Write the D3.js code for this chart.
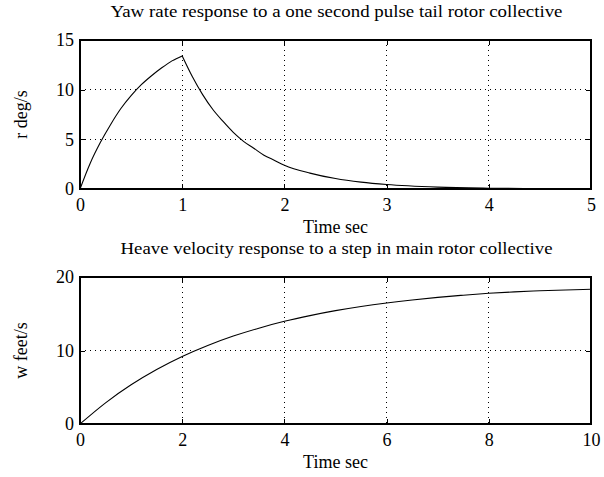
<!DOCTYPE html>
<html>
<head>
<script src="https://d3js.org/d3.v7.min.js"></script>
<style>
  body { margin: 0; background: #fff; }
  .axis path { display: none; }
  .axis line { stroke: #000; shape-rendering: crispEdges; }
  .grid line { stroke: #000; stroke-dasharray: 1,4; shape-rendering: crispEdges; }
  .frame { fill: none; stroke: #000; stroke-width: 1.3; shape-rendering: crispEdges; }
</style>
</head>
<body>
<script>
// yaw rate, one second pulse
var yawTime = [0, 0.1, 0.2, 0.3, 0.4, 0.5, 0.6, 0.7, 0.8, 0.9, 1.0,
               1.1, 1.2, 1.3, 1.4, 1.5, 1.6, 1.7, 1.8, 1.9, 2.0,
               2.25, 2.5, 2.75, 3.0, 3.5, 4.0, 4.5, 5.0];
var yawRate = [0, 2.6, 4.7, 6.5, 8.1, 9.4, 10.5, 11.4, 12.2, 12.9, 13.4,
               11.3, 9.5, 8.0, 6.8, 5.7, 4.8, 4.1, 3.4, 2.9, 2.4,
               1.6, 1.05, 0.69, 0.45, 0.19, 0.08, 0.03, 0.01];
var yawXTicks = [0, 1, 2, 3, 4, 5];
var yawYTicks = [0, 5, 10, 15];

// heave velocity, step input
var heaveTime = [0, 0.5, 1, 1.5, 2, 2.5, 3, 3.5, 4, 4.5, 5,
                 5.5, 6, 6.5, 7, 7.5, 8, 8.5, 9, 9.5, 10];
var heaveVel = [0, 2.88, 5.33, 7.41, 9.18, 10.68, 11.96, 13.04, 13.97, 14.75, 15.42,
                15.99, 16.47, 16.88, 17.23, 17.52, 17.78, 17.98, 18.12, 18.24, 18.33];
var heaveXTicks = [0, 2, 4, 6, 8, 10];
var heaveYTicks = [0, 10, 20];

var W = 604, H = 477;
var left = 80, right = 591;
var serif = '"Liberation Serif", "DejaVu Serif", serif';

var svg = d3.select('body').append('svg')
    .attr('width', W).attr('height', H);

function panel(cfg) {
    var x = d3.scaleLinear().domain(cfg.xDomain).range([left, right]);
    var y = d3.scaleLinear().domain(cfg.yDomain).range([cfg.bottom, cfg.top]);
    var g = svg.append('g');
    var fmt = d3.format('d');

    // dotted grid
    g.append('g').attr('class', 'grid')
        .selectAll('line').data(cfg.xTicks.slice(1, -1)).join('line')
        .attr('x1', d => x(d)).attr('x2', d => x(d))
        .attr('y1', cfg.top).attr('y2', cfg.bottom);
    g.append('g').attr('class', 'grid')
        .selectAll('line').data(cfg.yTicks.slice(1, -1)).join('line')
        .attr('y1', d => y(d)).attr('y2', d => y(d))
        .attr('x1', left).attr('x2', right);

    // axes with inward ticks on all four sides
    var xa = g.append('g').attr('class', 'axis')
        .attr('transform', 'translate(0,' + cfg.bottom + ')')
        .call(d3.axisBottom(x).tickValues(cfg.xTicks).tickFormat(fmt).tickSizeInner(-5).tickSizeOuter(0).tickPadding(9));
    g.append('g').attr('class', 'axis')
        .attr('transform', 'translate(0,' + cfg.top + ')')
        .call(d3.axisTop(x).tickValues(cfg.xTicks).tickSizeInner(-5).tickSizeOuter(0).tickFormat(''));
    var ya = g.append('g').attr('class', 'axis')
        .attr('transform', 'translate(' + left + ',0)')
        .call(d3.axisLeft(y).tickValues(cfg.yTicks).tickFormat(fmt).tickSizeInner(-5).tickSizeOuter(0).tickPadding(6));
    g.append('g').attr('class', 'axis')
        .attr('transform', 'translate(' + right + ',0)')
        .call(d3.axisRight(y).tickValues(cfg.yTicks).tickSizeInner(-5).tickSizeOuter(0).tickFormat(''));
    [xa, ya].forEach(function (a) {
        a.selectAll('text')
            .style('font-family', serif)
            .style('font-size', '18px')
            .style('fill', '#000');
    });

    var line = d3.line()
        .x(d => x(d[0]))
        .y(d => y(d[1]))
        .curve(d3.curveMonotoneX);
    var pts = cfg.xs.map((t, i) => [t, cfg.ys[i]]);
    var pieces = cfg.breakAt ? [pts.slice(0, cfg.breakAt + 1), pts.slice(cfg.breakAt)] : [pts];
    pieces.forEach(function (p) {
        g.append('path')
            .attr('d', line(p))
            .attr('fill', 'none')
            .attr('stroke', '#000')
            .attr('stroke-width', 1.1);
    });

    g.append('rect').attr('class', 'frame')
        .attr('x', left).attr('y', cfg.top)
        .attr('width', right - left).attr('height', cfg.bottom - cfg.top);

    g.append('text')
        .attr('x', (left + right) / 2 + 1).attr('y', cfg.top - 23)
        .attr('text-anchor', 'middle')
        .attr('textLength', cfg.titleWidth)
        .attr('lengthAdjust', 'spacingAndGlyphs')
        .style('font-family', serif).style('font-size', '16.5px')
        .text(cfg.title);
    g.append('text')
        .attr('x', (left + right) / 2).attr('y', cfg.bottom + 44)
        .attr('text-anchor', 'middle')
        .style('font-family', serif).style('font-size', '18px')
        .text(cfg.xLabel);
    g.append('text')
        .attr('transform', 'translate(27,' + (cfg.top + cfg.bottom) / 2 + ') rotate(-90)')
        .attr('text-anchor', 'middle')
        .style('font-family', serif).style('font-size', '18px')
        .text(cfg.yLabel);
}

panel({
    top: 40, bottom: 189,
    xDomain: [0, 5], yDomain: [0, 15],
    xTicks: yawXTicks, yTicks: yawYTicks,
    xs: yawTime, ys: yawRate, breakAt: 10,
    title: 'Yaw rate response to a one second pulse tail rotor collective',
    titleWidth: 452,
    xLabel: 'Time sec', yLabel: 'r deg/s'
});

panel({
    top: 277, bottom: 424,
    xDomain: [0, 10], yDomain: [0, 20],
    xTicks: heaveXTicks, yTicks: heaveYTicks,
    xs: heaveTime, ys: heaveVel,
    title: 'Heave velocity response to a step in main rotor collective',
    titleWidth: 432,
    xLabel: 'Time sec', yLabel: 'w feet/s'
});
</script>
</body>
</html>
